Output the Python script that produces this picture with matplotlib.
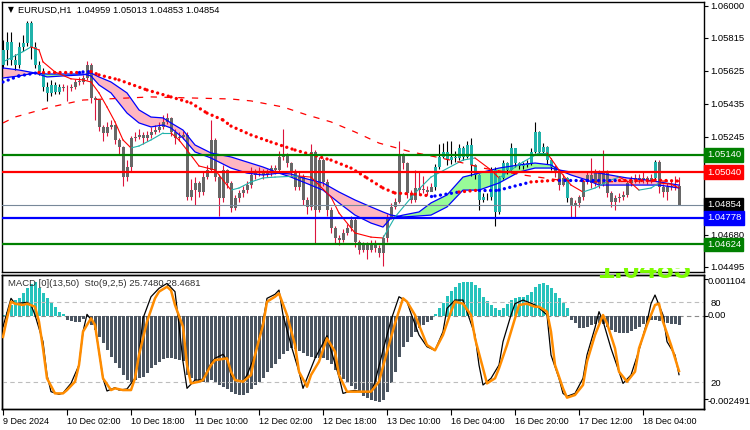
#!/usr/bin/env python3
"""EURUSD H1 chart with MA ribbon and MACD/Stochastic sub-window."""

import matplotlib

matplotlib.use("Agg")
import matplotlib.pyplot as plt
import numpy as np
from matplotlib.transforms import Bbox

plt.rcParams["font.family"] = ["Liberation Sans", "DejaVu Sans"]

W, H = 750, 430

# ---- candles (H1 bars, oldest first) ----
first_open = 1.05660
close = [
    1.05745, 1.05793, 1.05687, 1.05658, 1.05764, 1.05783, 1.05899, 1.05764, 1.05658, 1.05620,
    1.05533, 1.05495, 1.05543, 1.05504, 1.05533, 1.05524, 1.05524, 1.05533, 1.05562, 1.05562,
    1.05582, 1.05658, 1.05466, 1.05456, 1.05303, 1.05264, 1.05303, 1.05310, 1.05226, 1.05187,
    1.05014, 1.05072, 1.05236, 1.05245, 1.05255, 1.05236, 1.05255, 1.05274, 1.05283, 1.05303,
    1.05331, 1.05351, 1.05274, 1.05236, 1.05245, 1.05255, 1.04899, 1.04938, 1.04976, 1.04928,
    1.05014, 1.05053, 1.05226, 1.05014, 1.04890, 1.05053, 1.04976, 1.04832, 1.04890, 1.04918,
    1.04938, 1.04966, 1.05024, 1.05034, 1.05049, 1.05024, 1.05037, 1.05063, 1.05053, 1.05129,
    1.05139, 1.05091, 1.05043, 1.04956, 1.05014, 1.04880, 1.04841, 1.05158, 1.04822, 1.05110,
    1.04985, 1.04822, 1.04717, 1.04659, 1.04649, 1.04688, 1.04717, 1.04765, 1.04639, 1.04592,
    1.04620, 1.04592, 1.04630, 1.04601, 1.04573, 1.04659, 1.04784, 1.04841, 1.04870, 1.05139,
    1.05091, 1.04918, 1.04880, 1.04947, 1.04938, 1.04938, 1.04928, 1.04953, 1.05072, 1.05129,
    1.05158, 1.05110, 1.05129, 1.05120, 1.05178, 1.05129, 1.05197, 1.05082, 1.05024, 1.04880,
    1.04899, 1.04895, 1.05053, 1.04812, 1.05005, 1.05091, 1.05053, 1.05178, 1.05091, 1.05076,
    1.05082, 1.05091, 1.05158, 1.05274, 1.05158, 1.05187, 1.05110, 1.05072, 1.05034, 1.04966,
    1.05005, 1.04890, 1.04851, 1.04861, 1.04895, 1.04985, 1.05024, 1.04976, 1.05034, 1.04972,
    1.05034, 1.04918, 1.04870, 1.04890, 1.04895, 1.04909, 1.04976, 1.04995, 1.05005, 1.04995,
    1.05005, 1.04991, 1.05005, 1.05101, 1.04956, 1.04928, 1.04956, 1.04960, 1.04959, 1.04854,
]
high = [
    1.05800, 1.05850, 1.05850, 1.05720, 1.05790, 1.05830, 1.05910, 1.05910, 1.05790, 1.05680,
    1.05640, 1.05560, 1.05570, 1.05560, 1.05550, 1.05550, 1.05540, 1.05550, 1.05580, 1.05590,
    1.05600, 1.05680, 1.05670, 1.05480, 1.05460, 1.05310, 1.05330, 1.05340, 1.05320, 1.05240,
    1.05190, 1.05110, 1.05250, 1.05270, 1.05290, 1.05270, 1.05280, 1.05300, 1.05310, 1.05330,
    1.05370, 1.05380, 1.05360, 1.05290, 1.05270, 1.05280, 1.05270, 1.05000, 1.05010, 1.04990,
    1.05040, 1.05080, 1.05340, 1.05240, 1.05030, 1.05080, 1.05060, 1.04990, 1.04910, 1.04940,
    1.04960, 1.04990, 1.05070, 1.05060, 1.05070, 1.05060, 1.05060, 1.05080, 1.05080, 1.05160,
    1.05290, 1.05150, 1.05100, 1.05060, 1.05040, 1.05030, 1.04900, 1.05200, 1.05170, 1.05130,
    1.05120, 1.05000, 1.04840, 1.04730, 1.04680, 1.04710, 1.04740, 1.04790, 1.04780, 1.04650,
    1.04640, 1.04640, 1.04650, 1.04650, 1.04620, 1.04680, 1.04800, 1.04860, 1.04890, 1.05220,
    1.05150, 1.05100, 1.04940, 1.05050, 1.05040, 1.05020, 1.04960, 1.04980, 1.05090, 1.05200,
    1.05210, 1.05220, 1.05220, 1.05160, 1.05200, 1.05190, 1.05220, 1.05240, 1.05090, 1.05030,
    1.04920, 1.04920, 1.05070, 1.05070, 1.05020, 1.05110, 1.05100, 1.05210, 1.05180, 1.05100,
    1.05100, 1.05110, 1.05180, 1.05330, 1.05280, 1.05210, 1.05190, 1.05120, 1.05080, 1.05040,
    1.05030, 1.05010, 1.04900, 1.04880, 1.04910, 1.05000, 1.05040, 1.05120, 1.05060, 1.05050,
    1.05170, 1.05050, 1.04930, 1.04910, 1.04920, 1.04930, 1.04990, 1.05020, 1.05030, 1.05030,
    1.05040, 1.05020, 1.05030, 1.05110, 1.05110, 1.04970, 1.04980, 1.04990, 1.05020, 1.05013,
]
low = [
    1.05640, 1.05660, 1.05660, 1.05630, 1.05640, 1.05740, 1.05770, 1.05690, 1.05640, 1.05600,
    1.05510, 1.05450, 1.05480, 1.05490, 1.05490, 1.05510, 1.05450, 1.05510, 1.05520, 1.05540,
    1.05550, 1.05570, 1.05440, 1.05340, 1.05280, 1.05220, 1.05250, 1.05290, 1.05200, 1.05140,
    1.04960, 1.04990, 1.05040, 1.05220, 1.05230, 1.05200, 1.05220, 1.05240, 1.05260, 1.05270,
    1.05290, 1.05320, 1.05250, 1.05200, 1.05220, 1.05230, 1.04880, 1.04880, 1.04850, 1.04900,
    1.04910, 1.05000, 1.05040, 1.04990, 1.04790, 1.04870, 1.04950, 1.04810, 1.04820, 1.04870,
    1.04900, 1.04920, 1.04950, 1.05000, 1.05020, 1.05000, 1.05010, 1.05020, 1.05030, 1.05040,
    1.05110, 1.05070, 1.05020, 1.04940, 1.04940, 1.04850, 1.04800, 1.04820, 1.04630, 1.04810,
    1.04960, 1.04790, 1.04690, 1.04630, 1.04620, 1.04640, 1.04680, 1.04700, 1.04610, 1.04570,
    1.04580, 1.04540, 1.04580, 1.04580, 1.04550, 1.04500, 1.04640, 1.04770, 1.04830, 1.04860,
    1.05060, 1.04890, 1.04860, 1.04870, 1.04910, 1.04920, 1.04910, 1.04930, 1.04940, 1.05060,
    1.05120, 1.05080, 1.05090, 1.05100, 1.05110, 1.05110, 1.05120, 1.05020, 1.05000, 1.04820,
    1.04870, 1.04880, 1.04880, 1.04730, 1.04800, 1.05000, 1.05030, 1.05050, 1.05070, 1.05060,
    1.05060, 1.05070, 1.05080, 1.05150, 1.05140, 1.05140, 1.05090, 1.05050, 1.05010, 1.04940,
    1.04960, 1.04870, 1.04780, 1.04780, 1.04840, 1.04880, 1.04970, 1.04950, 1.04960, 1.04950,
    1.04960, 1.04900, 1.04840, 1.04820, 1.04870, 1.04880, 1.04900, 1.04960, 1.04980, 1.04980,
    1.04980, 1.04970, 1.04980, 1.04990, 1.04920, 1.04900, 1.04880, 1.04940, 1.04940, 1.04853,
]
# bars drawn in the "up-trend" colour (first, last bar of each run)
teal_runs = [(0, 14), (108, 137), (141, 141), (163, 163)]

# ---- moving averages (bar index, price) ----
ma200_bar = [0, 3, 12, 20, 37, 57, 62, 70, 76, 82, 88, 94, 102, 106, 114, 120, 130, 139, 149, 159, 169]
ma200_val = [1.05324, 1.05358, 1.05416, 1.05456, 1.05474, 1.05462, 1.05451, 1.05416, 1.05370, 1.05330,
             1.05272, 1.05208, 1.05157, 1.05139, 1.05099, 1.05064, 1.05024, 1.04995, 1.04984, 1.04989,
             1.04989]

slow_bar = [0, 4, 9, 10, 19, 20, 22, 24, 29, 36, 42, 47, 51, 55, 57, 62, 67, 73, 82, 87, 91, 95,
            98, 103, 107, 108, 114, 119, 124, 132, 139, 146, 154, 163, 169]
slow_val = [1.05560, 1.05595, 1.05615, 1.05618, 1.05618, 1.05618, 1.05620, 1.05601, 1.05572, 1.05514,
            1.05474, 1.05439, 1.05381, 1.05341, 1.05306, 1.05255, 1.05214, 1.05168, 1.05110, 1.05064,
            1.05007, 1.04949, 1.04920, 1.04914, 1.04903, 1.04903, 1.04926, 1.04937, 1.04937, 1.04984,
            1.04995, 1.04995, 1.04995, 1.04995, 1.04989]
slow_rising = [1, 1, 1, 0, 0, 1, 1, 0, 0, 0, 0, 0, 0, 0, 0, 0, 0, 0, 0, 0, 0, 0,
               0, 0, 0, 1, 1, 0, 1, 1, 0, 1, 1, 0, 0]

band_bar = [0, 4, 8, 11, 15, 20, 22, 24, 27, 31, 34, 37, 40, 42, 45, 48, 52, 57, 61, 65, 69, 72,
            75, 80, 84, 88, 92, 95, 97, 100, 104, 107, 111, 115, 119, 124, 129, 133, 137, 139,
            142, 146, 149, 156, 161, 164, 169]
band_fast = [1.05583, 1.05595, 1.05612, 1.05606, 1.05606, 1.05606, 1.05595, 1.05543, 1.05497, 1.05381,
             1.05324, 1.05301, 1.05312, 1.05295, 1.05237, 1.05157, 1.05122, 1.05064, 1.05035, 1.05024,
             1.05035, 1.05012, 1.04984, 1.04937, 1.04863, 1.04793, 1.04747, 1.04724, 1.04776, 1.04793,
             1.04811, 1.04863, 1.04909, 1.05012, 1.05035, 1.05064, 1.05082, 1.05093, 1.05082, 1.05053,
             1.05024, 1.04995, 1.04966, 1.04966, 1.04966, 1.04966, 1.04949]
band_slow = [1.05641, 1.05629, 1.05612, 1.05589, 1.05595, 1.05601, 1.05612, 1.05589, 1.05560, 1.05497,
             1.05399, 1.05358, 1.05353, 1.05324, 1.05283, 1.05197, 1.05151, 1.05128, 1.05099, 1.05070,
             1.05035, 1.05030, 1.05007, 1.04978, 1.04926, 1.04880, 1.04840, 1.04811, 1.04793, 1.04782,
             1.04788, 1.04793, 1.04840, 1.04937, 1.04937, 1.04978, 1.05041, 1.05064, 1.05064, 1.05053,
             1.05041, 1.05041, 1.05035, 1.05007, 1.04995, 1.04984, 1.04966]

fast_bar = [0, 2, 5, 7, 9, 10, 13, 17, 20, 22, 24, 26, 28, 30, 32, 34, 37, 40, 42, 44, 46, 49, 53,
            57, 59, 62, 65, 68, 74, 77, 82, 84, 88, 92, 95, 98, 103, 107, 115, 118, 122, 124, 130,
            134, 136, 139, 142, 145, 148, 152, 154, 157, 159, 162, 164, 167, 169]
fast_val = [1.05676, 1.05699, 1.05735, 1.05762, 1.05745, 1.05676, 1.05618, 1.05578, 1.05572, 1.05560,
            1.05497, 1.05416, 1.05330, 1.05226, 1.05180, 1.05191, 1.05226, 1.05266, 1.05266, 1.05226,
            1.05168, 1.05076, 1.05053, 1.04937, 1.04949, 1.04984, 1.05007, 1.05012, 1.05018, 1.05012,
            1.04897, 1.04805, 1.04690, 1.04666, 1.04661, 1.04782, 1.04920, 1.05012, 1.05110, 1.05122,
            1.05053, 1.05007, 1.05099, 1.05151, 1.05151, 1.05053, 1.04966, 1.04926, 1.04949, 1.04995,
            1.05012, 1.04978, 1.04937, 1.04949, 1.04978, 1.04972, 1.04949]

levels = [1.05140, 1.05040, 1.04778, 1.04624]
level_colors = ["#008000", "#ff0000", "#0000ff", "#008000"]
bid = 1.04854
price_ticks = [1.06000, 1.05815, 1.05625, 1.05435, 1.05245, 1.04680, 1.04495]
big_label = "1.0485"

# ---- sub window ----
macd = [
    0.00003, 0.00013, 0.00033, 0.00048, 0.00053, 0.00068, 0.00085, 0.00095, 0.00101, 0.00083,
    0.00068, 0.00053, 0.00041, 0.00028, 0.00013, 0.00005, -0.00012, -0.00015, -0.00019, -0.00017,
    -0.00009, -0.00002, -0.00027, -0.00042, -0.00062, -0.00082, -0.00102, -0.00122, -0.00142, -0.00157,
    -0.00177, -0.00192, -0.00197, -0.00192, -0.00187, -0.00182, -0.00172, -0.00157, -0.00147, -0.00137,
    -0.00130, -0.00125, -0.00126, -0.00128, -0.00132, -0.00135, -0.00177, -0.00187, -0.00192, -0.00197,
    -0.00199, -0.00202, -0.00192, -0.00197, -0.00207, -0.00212, -0.00219, -0.00229, -0.00235, -0.00237,
    -0.00237, -0.00232, -0.00219, -0.00207, -0.00197, -0.00185, -0.00169, -0.00155, -0.00145, -0.00130,
    -0.00115, -0.00104, -0.00097, -0.00099, -0.00105, -0.00112, -0.00119, -0.00123, -0.00127, -0.00125,
    -0.00127, -0.00132, -0.00145, -0.00162, -0.00177, -0.00189, -0.00199, -0.00209, -0.00219, -0.00229,
    -0.00239, -0.00247, -0.00252, -0.00255, -0.00257, -0.00252, -0.00227, -0.00202, -0.00167, -0.00122,
    -0.00092, -0.00077, -0.00062, -0.00047, -0.00037, -0.00027, -0.00019, -0.00012, 0.00005, 0.00023,
    0.00038, 0.00061, 0.00075, 0.00088, 0.00098, 0.00103, 0.00103, 0.00103, 0.00093, 0.00083,
    0.00058, 0.00045, 0.00033, 0.00023, 0.00018, 0.00023, 0.00035, 0.00048, 0.00053, 0.00057,
    0.00058, 0.00063, 0.00073, 0.00088, 0.00095, 0.00098, 0.00093, 0.00085, 0.00068, 0.00053,
    0.00038, 0.00025, -0.00012, -0.00022, -0.00035, -0.00037, -0.00032, -0.00027, -0.00023, -0.00022,
    -0.00025, -0.00032, -0.00042, -0.00047, -0.00050, -0.00052, -0.00051, -0.00045, -0.00039, -0.00032,
    -0.00025, -0.00017, -0.00013, -0.00012, -0.00015, -0.00019, -0.00022, -0.00023, -0.00025, -0.00027,
]
macd_labels = [(0.001104, "0.001104"), (0.0, "0.00"), (-0.002491, "-0.002491")]

sto_main_bar = [0, 2, 3, 6, 7, 8, 10, 11, 12, 14, 15, 17, 19, 20, 21, 23, 24, 25, 26, 28, 29, 31,
                33, 34, 35, 37, 39, 41, 43, 44, 45, 46, 48, 49, 50, 52, 53, 55, 56, 57, 58, 60,
                61, 63, 65, 66, 68, 69, 70, 72, 74, 75, 77, 78, 81, 82, 84, 85, 87, 88, 90, 92,
                93, 95, 97, 99, 101, 102, 104, 106, 108, 110, 111, 113, 115, 116, 118, 119, 120,
                122, 124, 125, 127, 128, 130, 133, 134, 136, 137, 139, 140, 141, 143, 145, 146,
                148, 149, 150, 152, 154, 155, 157, 159, 161, 162, 163, 165, 166, 168, 169]
sto_main = [61.7, 83, 79, 80, 78, 70.5, 50.5, 25.5, 13, 11, 12, 19.2, 33, 58, 71, 63, 43, 23, 13.5,
            16, 14.2, 15, 23, 40.5, 68, 84.2, 90.5, 94.2, 88, 63, 35.5, 15.5, 21.7, 21.7, 22.5,
            34.2, 38, 41, 36.7, 25.5, 21.7, 20.5, 25.5, 40.5, 65.5, 83, 86, 89.2, 70.5, 48, 28,
            15.5, 30.5, 38, 55, 44, 24.2, 11.7, 13.5, 14, 12.5, 12.5, 20.5, 44, 66.7, 84.2, 80.5,
            71.7, 55.5, 46.7, 44, 58, 75.5, 81.7, 81.7, 73, 55.5, 33, 18, 23, 33, 50.5, 70.5, 79,
            81.7, 78, 76, 70.5, 40.5, 23, 11.7, 9.5, 11.7, 23, 40.5, 61, 73, 66, 45.5, 28, 19.2,
            25.5, 44, 65.5, 79, 85.5, 70.5, 50.5, 40.5, 25.748]

sto_sig_bar = [0, 1, 2, 3, 5, 6, 8, 9, 10, 11, 13, 15, 16, 18, 19, 20, 22, 23, 24, 25, 27, 28, 30,
               32, 33, 34, 36, 38, 39, 41, 42, 43, 45, 46, 47, 49, 50, 52, 53, 56, 57, 58, 60, 62,
               63, 65, 66, 68, 69, 71, 73, 74, 76, 77, 79, 81, 83, 84, 86, 88, 90, 92, 94, 96, 98,
               100, 101, 103, 105, 106, 108, 110, 112, 113, 115, 117, 118, 120, 121, 123, 124, 126,
               128, 129, 131, 133, 134, 136, 137, 138, 140, 141, 143, 145, 146, 148, 150, 151, 153,
               154, 156, 158, 159, 161, 163, 164, 165, 167, 169]
sto_sig = [54, 68, 80.5, 79, 78, 79, 76.7, 65.5, 45.5, 23, 11.7, 11.7, 14.2, 20.5, 33, 58, 68, 63, 43,
           23, 14.2, 15.5, 14.2, 14.2, 23, 40.5, 65.5, 83, 88, 91.7, 89, 78, 61.7, 33, 19.2, 20.5,
           21.7, 33, 36.7, 38, 28, 21.7, 20.5, 25.5, 40.5, 63, 80.5, 84.2, 86.7, 70.5, 48, 28, 16.7,
           25.5, 35.5, 53, 43, 25.5, 13, 13, 13, 13, 20.5, 43, 64.2, 83, 80.5, 70.5, 55.5, 48, 44,
           55.5, 73, 80.5, 79, 70.5, 53, 30.5, 19.2, 23, 30.5, 48, 68, 78, 79, 76.7, 76.7, 73, 58,
           33, 15.5, 8.5, 10.5, 18, 35.5, 55.5, 70.5, 64.2, 45.5, 28, 20.5, 28, 45.5, 63, 78, 79,
           65.5, 48, 28.468]

date_bars = [0, 16, 32, 48, 64, 80, 96, 112, 128, 144, 160]
date_labels = ["9 Dec 2024", "10 Dec 02:00", "10 Dec 18:00", "11 Dec 10:00", "12 Dec 02:00",
               "12 Dec 18:00", "13 Dec 10:00", "16 Dec 04:00", "16 Dec 20:00", "17 Dec 12:00",
               "18 Dec 04:00"]

TEAL = "#20b2aa"
FS = 6.8


def px_axes(fig, x0, y0, x1, y1):
    return fig.add_axes([x0 / W, 1 - y1 / H, (x1 - x0) / W, (y1 - y0) / H])


def frame(ax):
    for s in ax.spines.values():
        s.set_color("black")
        s.set_linewidth(1.0)
    ax.set_xlim(-0.25, 175.25)


def draw_price(ax):
    n = len(close)
    bars = np.arange(n)
    c = np.array(close)
    o = np.r_[first_open, c[:-1]]
    teal = np.zeros(n, bool)
    for a, b in teal_runs:
        teal[a:b + 1] = True

    # ribbon between the two averages
    bb = np.array(band_bar)
    f = np.array(band_fast)
    s = np.array(band_slow)
    ax.fill_between(bb, f, s, where=f <= s, interpolate=True, color="#ffb6c1", lw=0, zorder=1)
    ax.fill_between(bb, f, s, where=f >= s, interpolate=True, color="#98fb98", lw=0, zorder=1)

    ax.vlines(bars, low, high, colors=np.where(teal, "black", "#dc143c"), lw=0.8, zorder=3)
    body_lo = np.minimum(o, c)
    body_h = np.maximum(np.abs(c - o), 0.00003)
    ax.bar(bars, body_h, bottom=body_lo, width=0.75,
           color=np.where(teal, TEAL, "#676767"), lw=0, zorder=3)

    ax.plot(bb, f, color="#0000ff", lw=0.9, zorder=4)
    ax.plot(bb, s, color="#0000ff", lw=0.9, zorder=4)

    # thin fast average: red while falling, teal while rising
    for k in range(len(fast_bar) - 1):
        col = "#ff0000" if fast_val[k + 1] < fast_val[k] else TEAL
        ax.plot(fast_bar[k:k + 2], fast_val[k:k + 2], color=col, lw=0.8, zorder=4)

    ax.plot(ma200_bar, ma200_val, color="#ff0000", lw=0.9, ls=(0, (5, 6)), zorder=4)

    for k in range(len(slow_bar) - 1):
        col = "#0000ff" if slow_rising[k + 1] else "#ff0000"
        ax.plot(slow_bar[k:k + 2], slow_val[k:k + 2], color=col, lw=2.4,
                ls=(0, (0.01, 1.65)), dash_capstyle="round", zorder=5)

    for lv, col in zip(levels, level_colors):
        ax.axhline(lv, color=col, lw=1.6, zorder=6)
    ax.axhline(bid, color="#778899", lw=0.8, zorder=6)

    ax.set_ylim(1.04465, 1.06021)
    ax.set_xticks([])
    ax.yaxis.tick_right()
    ax.set_yticks(price_ticks)
    ax.set_yticklabels([f"{p:.5f}" for p in price_ticks], fontsize=FS)
    ax.tick_params(axis="y", length=3, width=0.8, pad=1.5)

    boxes = [(1.05140, "#008000", "white"), (1.05040, "#ff0000", "white"),
             (bid, "black", "white"), (1.04778, "#0000ff", "white"), (1.04624, "#008000", "white")]
    tr = ax.get_yaxis_transform()
    for val, fc, tc in boxes:
        ax.text(1.004, val, f"{val:.5f}", transform=tr, fontsize=FS, color=tc, va="center",
                ha="left", clip_on=False, zorder=10,
                bbox=dict(boxstyle="square,pad=0.25", fc=fc, ec=fc))


def draw_sub(ax):
    bars = np.arange(len(macd))
    m = np.array(macd)
    ax.bar(bars, m, width=0.75, color=np.where(m >= 0, "#26c3bc", "#4b5561"), lw=0, zorder=2)
    ax.axhline(0, color="#8a8a8a", lw=0.8, ls=(0, (4, 3)), zorder=1)
    ax.set_ylim(-0.002786, 0.001228)

    ax.set_xticks(date_bars)
    ax.set_xticklabels(date_labels, fontsize=6.5, ha="left")
    ax.tick_params(axis="x", length=4, width=0.8, pad=1.5)

    sto = ax.twinx()
    sto.set_ylim(0, 100.5)
    frame(sto)
    sto.axhline(80, color="#bdbdbd", lw=0.8, ls=(0, (4, 3)), zorder=1)
    sto.axhline(20, color="#bdbdbd", lw=0.8, ls=(0, (4, 3)), zorder=1)
    sto.plot(sto_main_bar, sto_main, color="black", lw=0.9, zorder=3)
    sto.plot(sto_sig_bar, sto_sig, color="#ff8c00", lw=1.8, zorder=4)
    sto.set_yticks([80, 20])
    sto.set_yticklabels(["80", "20"], fontsize=FS)
    sto.tick_params(axis="y", length=0, pad=4.5)

    # twinx moved the MACD ticks to the left; put them back on the right
    ax.yaxis.tick_right()
    ax.set_yticks([v for v, _ in macd_labels])
    ax.set_yticklabels([""] * len(macd_labels))
    ax.tick_params(axis="y", length=3, width=0.8)
    # labels sit slightly below their tick, as in the terminal
    tr = ax.get_yaxis_transform()
    for (v, txt), shift in zip(macd_labels, (-2.5, 0, -2.7)):
        ax.annotate(txt, (1.0, v), xycoords=tr, xytext=(3.5, shift), textcoords="offset pixels",
                    fontsize=FS, va="center", ha="left", annotation_clip=False)

    ax.text(6 / 702, 1 - 8 / 134, "MACD [0](13,50)  Sto(9,2,5) 25.7480 28.4681",
            transform=ax.transAxes, fontsize=FS, color="#303030", va="center", ha="left", zorder=6)


def main():
    fig = plt.figure(figsize=(W / 100, H / 100), dpi=100)
    fig.patch.set_facecolor("white")

    price = px_axes(fig, 2, 2, 704, 272)
    frame(price)
    draw_price(price)

    sub = px_axes(fig, 2, 275, 704, 409)
    frame(sub)
    draw_sub(sub)

    fig.text(8 / W, 1 - 10 / H, "\u25bc", fontsize=5.5, color="black", va="center",
             family="DejaVu Sans")
    fig.text(18 / W, 1 - 10 / H, "EURUSD,H1  1.04959 1.05013 1.04853 1.04854",
             fontsize=6.7, color="black", va="center")

    # large lime label, mostly hidden: only its lower edge shows at the panel seam
    big = fig.text(597 / W, 1 - 278 / H, big_label, fontsize=22, fontweight="bold",
                   color="#7cfc00", ha="left", va="baseline", zorder=0)
    big.set_clip_box(Bbox.from_extents(590, H - 278, 704, H - 268))
    big.set_clip_on(True)

    fig.savefig("out.png", dpi=100)


if __name__ == "__main__":
    main()
